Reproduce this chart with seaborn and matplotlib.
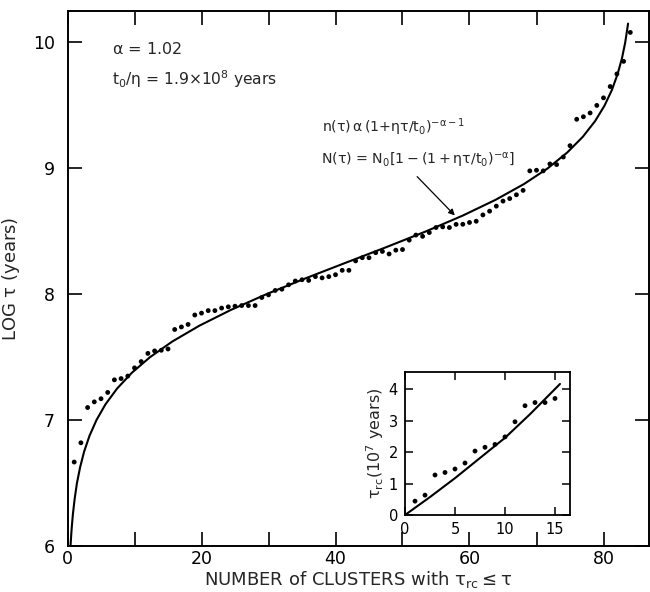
import matplotlib
matplotlib.use("Agg")
import matplotlib.pyplot as plt
import seaborn as sns

# ---------------- data ----------------
cluster_count = list(range(1, 85))
log_tau = [6.667, 6.82, 7.10, 7.145, 7.17, 7.22, 7.32, 7.33, 7.35, 7.415,
           7.465, 7.53, 7.55, 7.555, 7.565, 7.72, 7.74, 7.76, 7.835, 7.85,
           7.87, 7.87, 7.89, 7.90, 7.905, 7.91, 7.91, 7.91, 7.974, 7.995,
           8.03, 8.04, 8.075, 8.105, 8.115, 8.11, 8.14, 8.13, 8.14, 8.155,
           8.19, 8.19, 8.265, 8.29, 8.29, 8.33, 8.34, 8.32, 8.35, 8.355,
           8.43, 8.47, 8.46, 8.49, 8.53, 8.535, 8.53, 8.555, 8.556, 8.57,
           8.58, 8.63, 8.66, 8.70, 8.74, 8.76, 8.79, 8.825, 8.98, 8.985,
           8.98, 9.035, 9.03, 9.09, 9.18, 9.39, 9.41, 9.44, 9.50, 9.56,
           9.65, 9.75, 9.85, 10.08]

fit_count = [0.45, 0.60, 0.80, 1.07, 1.41, 1.88, 2.48, 3.28, 4.32, 5.66,
             7.39, 9.58, 12.31, 15.66, 19.68, 24.37, 29.67, 35.46, 41.52, 47.63,
             53.53, 59.0, 63.89, 68.12, 71.67, 74.57, 76.90, 78.74, 80.17, 81.27,
             82.11, 82.76, 83.24, 83.67]
fit_log_tau = [6.0, 6.125, 6.25, 6.375, 6.5, 6.625, 6.75, 6.875, 7.0, 7.125,
               7.25, 7.375, 7.5, 7.625, 7.75, 7.875, 8.0, 8.125, 8.25, 8.375,
               8.5, 8.625, 8.75, 8.875, 9.0, 9.125, 9.25, 9.375, 9.5, 9.625,
               9.75, 9.875, 10.0, 10.15]

inset_count = list(range(1, 16))
inset_tau = [0.44, 0.63, 1.27, 1.35, 1.46, 1.65, 2.03, 2.15, 2.24, 2.48,
             2.96, 3.47, 3.57, 3.57, 3.70]
inset_fit_count = [0, 2.5, 5, 7.5, 10, 12.5, 15, 15.5]
inset_fit_tau = [0, 0.57, 1.17, 1.81, 2.45, 3.20, 4.00, 4.16]

main_xticks = [0, 10, 20, 30, 40, 50, 60, 70, 80]
main_xticklabels = ["0", "", "20", "", "40", "", "60", "", "80"]
main_yticks = [6, 7, 8, 9, 10]
main_yticklabels = ["6", "7", "8", "9", "10"]
inset_xticks = [0, 5, 10, 15]
inset_yticks = [0, 1, 2, 3, 4]

# ---------------- style ----------------
sns.set_style("ticks")
plt.rcParams["font.family"] = ["DejaVu Sans"]
plt.rcParams["mathtext.fontset"] = "dejavusans"
plt.rcParams["mathtext.default"] = "regular"

W, H = 650, 592
fig = plt.figure(figsize=(W / 100, H / 100), dpi=100)
fig.patch.set_facecolor("white")

# main axes (pixel geometry)
left, right, top, bottom = 67.5, 649, 11, 546
ax = fig.add_axes([left / W, (H - bottom) / H, (right - left) / W, (bottom - top) / H])

sns.lineplot(x=fit_count, y=fit_log_tau, sort=False, estimator=None,
             color="black", lw=1.5, ax=ax)
sns.scatterplot(x=cluster_count, y=log_tau, s=12, color="black",
                edgecolor="none", ax=ax)

ax.set_xlim(0, (right - left) / 6.7)
ax.set_ylim(6, 10.25)
ax.set_xticks(main_xticks)
ax.set_xticklabels(main_xticklabels)
ax.set_yticks(main_yticks)
ax.set_yticklabels(main_yticklabels)
ax.tick_params(direction="in", top=True, right=True, length=10, width=1.2,
               labelsize=12.5, colors="black")
ax.tick_params(axis="x", pad=3)
ax.tick_params(axis="y", pad=9)
for s in ax.spines.values():
    s.set_linewidth(1.4)
    s.set_color("black")
ax.set_xlabel(r"NUMBER of CLUSTERS with $\tau_{rc} \leq \tau$", fontsize=13)
ax.xaxis.set_label_coords(0.5, -0.043)
ax.set_ylabel(r"LOG $\tau$ (years)", fontsize=13)
ax.yaxis.set_label_coords(-0.078, 0.5)

ax.text(6.6, 9.95, r"$\alpha$ = 1.02", fontsize=11.5, va="center", ha="left")
ax.text(6.6, 9.71, r"$t_0/\eta$ = 1.9$\times$10$^8$ years", fontsize=11.2,
        va="center", ha="left")
ax.text(38.0, 9.33, r"n($\tau$)$\,\alpha\,$(1+$\eta\tau/t_0$)$^{-\alpha-1}$",
        fontsize=10.2, va="center", ha="left")
ax.text(37.8, 9.06, r"N($\tau$) = N$_0$$\left[1-(1+\eta\tau/t_0)^{-\alpha}\right]$",
        fontsize=10.2, va="center", ha="left")
ax.annotate("", xy=(58.1, 8.61), xytext=(51.9, 8.95),
            arrowprops=dict(arrowstyle="-|>", color="black", lw=0.9,
                            mutation_scale=9))

# inset axes
il, ir, it, ib = 405, 570, 372, 515
ax2 = fig.add_axes([il / W, (H - ib) / H, (ir - il) / W, (ib - it) / H])
sns.lineplot(x=inset_fit_count, y=inset_fit_tau, sort=False, estimator=None,
             color="black", lw=1.5, ax=ax2)
sns.scatterplot(x=inset_count, y=inset_tau, s=12, color="black",
                edgecolor="none", ax=ax2)
ax2.set_xlim(0, 16.5)
ax2.set_ylim(0, 4.54)
ax2.set_xticks(inset_xticks)
ax2.set_yticks(inset_yticks)
ax2.tick_params(direction="in", top=True, right=True, length=6, width=1.1,
                labelsize=10.5, pad=5, colors="black")
for s in ax2.spines.values():
    s.set_linewidth(1.3)
    s.set_color("black")
ax2.set_xlabel("")
ax2.set_ylabel(r"$\tau_{rc}$(10$^7$ years)", fontsize=11.5, labelpad=2)

fig.savefig("out.png", dpi=100, facecolor="white")
